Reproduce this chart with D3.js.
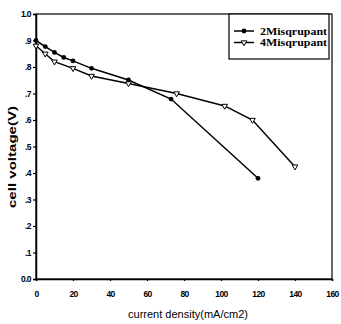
<!DOCTYPE html>
<html>
<head>
<meta charset="utf-8">
<script src="https://cdn.jsdelivr.net/npm/d3@7"></script>
<style>
  body { margin: 0; background: #fff; }
  svg { display: block; }
</style>
</head>
<body>
<div id="chart"></div>
<script>
// series 1: 2Mi (filled circles)
const x2 = [0, 5, 10, 15, 20, 30, 50, 73, 120];
const y2 = [0.90, 0.877, 0.855, 0.836, 0.823, 0.795, 0.751, 0.679, 0.38];
// series 2: 4Mi (open triangles)
const x4 = [0, 5, 10, 20, 30, 50, 76, 102, 117, 140];
const y4 = [0.88, 0.85, 0.82, 0.795, 0.766, 0.738, 0.70, 0.653, 0.60, 0.424];
const seriesNames = ['2Misqrupant', '4Misqrupant'];
const xTicks = [0, 20, 40, 60, 80, 100, 120, 140, 160];
const yTicks = [0, 0.1, 0.2, 0.3, 0.4, 0.5, 0.6, 0.7, 0.8, 0.9, 1.0];
const yTickLabels = ['0.0', '.1', '.2', '.3', '.4', '.5', '.6', '.7', '.8', '.9', '1.0'];

const W = 341, H = 324;
const m = { top: 14, right: 9, bottom: 45, left: 36 };

const svg = d3.select('#chart').append('svg')
  .attr('width', W).attr('height', H);

const x = d3.scaleLinear().domain([0, 160]).range([m.left, W - m.right]);
const y = d3.scaleLinear().domain([0, 1]).range([H - m.bottom, m.top]);

const font = 'Liberation Sans, Arial, sans-serif';

// frame
svg.append('rect')
  .attr('x', x(0)).attr('y', y(1))
  .attr('width', x(160) - x(0)).attr('height', y(0) - y(1))
  .attr('fill', 'none').attr('stroke', '#000').attr('stroke-width', 1.2);

// axes
const xAxis = svg.append('g')
  .attr('transform', `translate(0,${y(0)})`)
  .call(d3.axisBottom(x).tickValues(xTicks).tickSize(2).tickPadding(10));
const yAxis = svg.append('g')
  .attr('transform', `translate(${x(0)},0)`)
  .call(d3.axisLeft(y).tickValues(yTicks).tickSize(3).tickPadding(2)
    .tickFormat((d, i) => yTickLabels[i]));

[xAxis, yAxis].forEach(g => {
  g.select('.domain').attr('stroke-width', 1.5);
  g.selectAll('.tick line').attr('stroke-width', 1.2);
  g.selectAll('text')
    .attr('font-family', font).attr('font-weight', 'bold')
    .attr('font-size', 8.5).attr('fill', '#000')
    .attr('letter-spacing', -0.6);
});

// axis titles
svg.append('text')
  .attr('x', 188).attr('y', 318)
  .attr('text-anchor', 'middle')
  .attr('font-family', font).attr('font-size', 11)
  .attr('textLength', 120).attr('lengthAdjust', 'spacingAndGlyphs')
  .text('current density(mA/cm2)');

svg.append('text')
  .attr('transform', `translate(16,157) rotate(-90)`)
  .attr('text-anchor', 'middle')
  .attr('font-family', font).attr('font-size', 11)
  .attr('font-weight', 'bold')
  .attr('textLength', 102).attr('lengthAdjust', 'spacingAndGlyphs')
  .text('cell voltage(V)');

// lines
const line = d3.line().x(d => x(d[0])).y(d => y(d[1]));
const d2 = x2.map((v, i) => [v, y2[i]]);
const d4 = x4.map((v, i) => [v, y4[i]]);

svg.append('path').datum(d2).attr('d', line)
  .attr('fill', 'none').attr('stroke', '#000').attr('stroke-width', 1.5);
svg.append('path').datum(d4).attr('d', line)
  .attr('fill', 'none').attr('stroke', '#000').attr('stroke-width', 1.5);

const tri = d3.symbol().type(d3.symbolTriangle).size(14);

svg.selectAll('.m2').data(d2).enter().append('circle')
  .attr('cx', d => x(d[0])).attr('cy', d => y(d[1]))
  .attr('r', 2.4).attr('fill', '#000');

svg.selectAll('.m4').data(d4).enter().append('path')
  .attr('d', tri)
  .attr('transform', d => `translate(${x(d[0])},${y(d[1])}) rotate(180)`)
  .attr('fill', '#fff').attr('stroke', '#000').attr('stroke-width', 1);

// legend
const lg = svg.append('g');
lg.append('rect')
  .attr('x', 229).attr('y', 14).attr('width', 100).attr('height', 45)
  .attr('fill', '#fff').attr('stroke', '#000').attr('stroke-width', 1.2);

seriesNames.forEach((name, i) => {
  const ly = 31 + i * 11.5;
  lg.append('line')
    .attr('x1', 234).attr('x2', 254).attr('y1', ly).attr('y2', ly)
    .attr('stroke', '#000').attr('stroke-width', 1.5);
  if (i === 0) {
    lg.append('circle').attr('cx', 244).attr('cy', ly).attr('r', 2.4).attr('fill', '#000');
  } else {
    lg.append('path').attr('d', tri)
      .attr('transform', `translate(244,${ly}) rotate(180)`)
      .attr('fill', '#fff').attr('stroke', '#000');
  }
  lg.append('text')
    .attr('x', 260).attr('y', ly + 3.5)
    .attr('font-family', 'Liberation Serif, Times New Roman, serif')
    .attr('font-size', 10).attr('font-weight', 'bold')
    .attr('textLength', 67).attr('lengthAdjust', 'spacingAndGlyphs')
    .text(name);
});
</script>
</body>
</html>
